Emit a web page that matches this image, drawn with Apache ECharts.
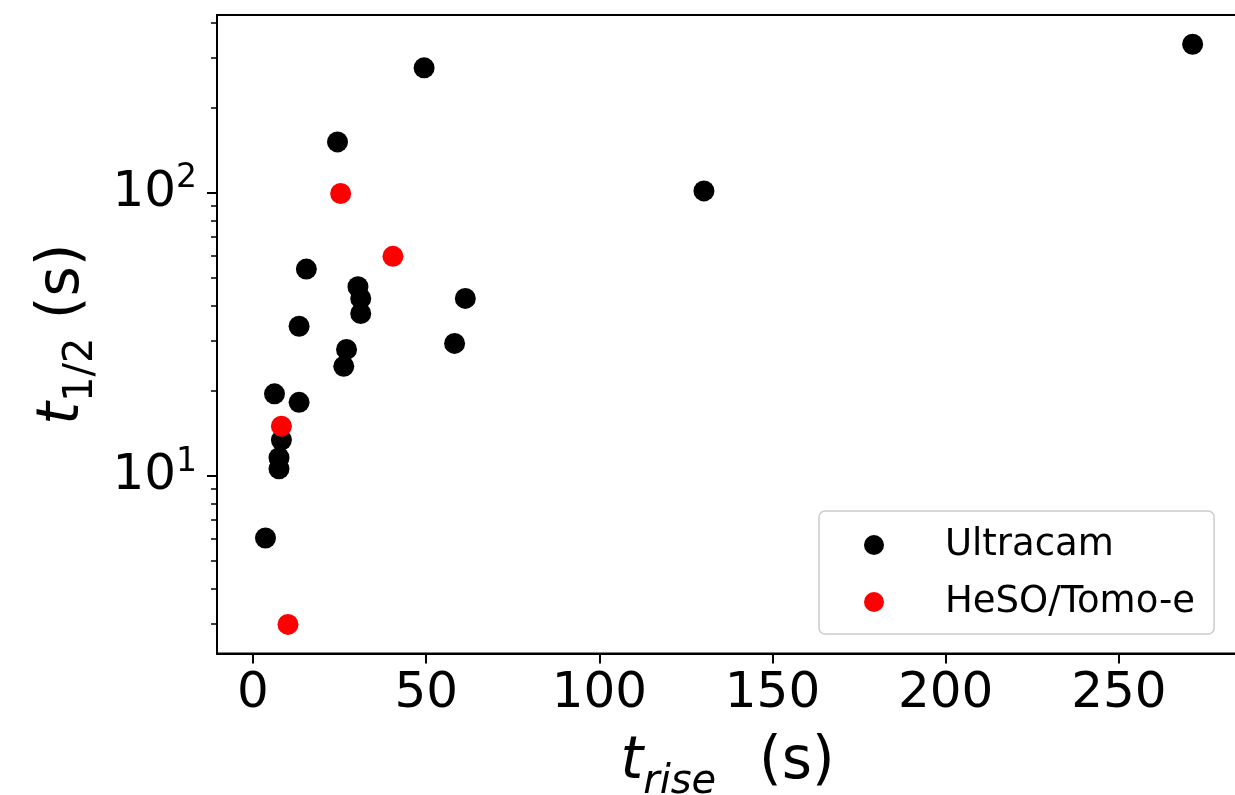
<!DOCTYPE html>
<html><head><meta charset="utf-8">
<script src="https://cdn.jsdelivr.net/npm/echarts@6/dist/echarts.min.js"></script>
<style>html,body{margin:0;padding:0;background:#fff}#c{width:1235px;height:795px}</style>
</head><body><div id="c"></div>
<script>
// ---- data ----
const seriesNames = ['Ultracam', 'HeSO/Tomo-e'];
const ultracamRise = [49.4, 24.4, 15.4, 30.3, 31.1, 31.1, 61.3, 13.3, 58.2, 27.0, 26.2, 6.2, 13.3, 8.2, 7.5, 7.5, 3.6, 271.3, 130.2];
const ultracamHalf = [276.5, 151.4, 53.8, 46.6, 42.4, 37.5, 42.4, 33.8, 29.4, 28.0, 24.4, 19.5, 18.2, 13.4, 11.6, 10.6, 6.04, 335, 101.6];
const hesoRise = [25.3, 40.4, 8.2, 10.1];
const hesoHalf = [99.5, 59.7, 15.0, 2.99];
const xTicks = [0, 50, 100, 150, 200, 250];
const yMajorTicks = [10, 100];
const yMinorTicks = [3, 4, 5, 6, 7, 8, 9, 20, 30, 40, 50, 60, 70, 80, 90, 200, 300, 400];
const xRange = [-10.4, 284.4];
const yRange = [2.36, 425];

const FONT = 'DejaVu Sans';
const zip = (a, b) => a.map((v, i) => [v, b[i]]);

const titleRich = {
  t: {fontFamily: FONT, fontStyle: 'italic', fontSize: 58, lineHeight: 68, color: '#000'},
  subI: {fontFamily: FONT, fontStyle: 'italic', fontSize: 40, lineHeight: 46, padding: [38, 0, 0, 0], color: '#000'},
  sub: {fontFamily: FONT, fontSize: 40, lineHeight: 46, padding: [38, 0, 0, 0], color: '#000'},
  n: {fontFamily: FONT, fontSize: 58, lineHeight: 68, color: '#000'},
  nx: {fontFamily: FONT, fontSize: 58, lineHeight: 68, padding: [0, 0, 0, 6], color: '#000'}
};

const chart = echarts.init(document.getElementById('c'), null, {renderer: 'canvas'});
chart.setOption({
  backgroundColor: '#fff',
  animation: false,
  grid: {left: 217, top: 15, width: 1021, height: 638.5, show: true, borderColor: '#000', borderWidth: 2,
         containLabel: false, outerBoundsMode: 'none'},
  legend: {
    orient: 'vertical', left: 819, top: 511,
    data: seriesNames,
    icon: 'circle', itemWidth: 20, itemHeight: 20, itemGap: 13,
    padding: [12, 19, 10, 45],
    borderColor: '#cccccc', borderWidth: 1.5, borderRadius: 6, backgroundColor: '#fff',
    textStyle: {fontFamily: FONT, fontSize: 37, color: '#000', lineHeight: 44, padding: [0, 0, 0, 56]}
  },
  xAxis: {
    type: 'value', min: xRange[0], max: xRange[1],
    axisLine: {show: true, onZero: false, lineStyle: {color: '#000', width: 2}},
    splitLine: {show: false},
    axisTick: {show: true, inside: false, length: 10, lineStyle: {color: '#000', width: 2}, customValues: xTicks},
    axisLabel: {customValues: xTicks, fontFamily: FONT, fontSize: 50, color: '#000', margin: 16},
    name: '{t|t}{subI|rise}{nx|  (s)}',
    nameLocation: 'middle', nameGap: 74,
    nameTextStyle: {rich: titleRich}
  },
  yAxis: [{
    type: 'log', logBase: 10, min: yRange[0], max: yRange[1],
    axisLine: {show: true, onZero: false, lineStyle: {color: '#000', width: 2}},
    splitLine: {show: false},
    axisTick: {show: true, length: 10, lineStyle: {color: '#000', width: 2}, customValues: yMajorTicks},
    axisLabel: {
      customValues: yMajorTicks, margin: 20,
      formatter: function (v) { const e = v > 5 ? Math.round(Math.log10(v)) : Math.round(v); return '{b|10}{s|' + e + '}'; },
      rich: {
        b: {fontFamily: FONT, fontSize: 50, lineHeight: 60, color: '#000'},
        s: {fontFamily: FONT, fontSize: 33, lineHeight: 40, padding: [0, 0, 28, 0], color: '#000'}
      }
    },
    name: '{t|t}{sub|1/2}{n| (s)}',
    nameLocation: 'middle', nameRotate: 90, nameGap: 120,
    nameTextStyle: {rich: titleRich}
  }, {
    type: 'log', logBase: 10, min: yRange[0], max: yRange[1], position: 'left',
    axisLine: {show: false, onZero: false}, splitLine: {show: false},
    axisTick: {show: true, length: 6, lineStyle: {color: '#000', width: 1.5}, customValues: yMinorTicks},
    axisLabel: {show: false}
  }],
  series: [{
    name: seriesNames[0], type: 'scatter', symbol: 'circle', symbolSize: 21,
    itemStyle: {color: '#000', opacity: 1},
    data: zip(ultracamRise, ultracamHalf)
  }, {
    name: seriesNames[1], type: 'scatter', symbol: 'circle', symbolSize: 21,
    itemStyle: {color: '#ff0000', opacity: 1},
    data: zip(hesoRise, hesoHalf)
  }]
});
</script></body></html>
